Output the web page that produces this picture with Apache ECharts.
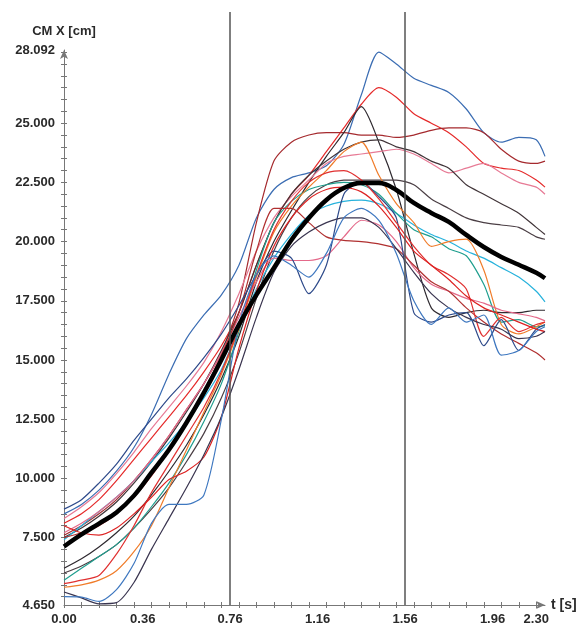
<!DOCTYPE html>
<html>
<head>
<meta charset="utf-8">
<script src="https://cdn.jsdelivr.net/npm/echarts@6/dist/echarts.min.js"></script>
<style>
html,body{margin:0;padding:0;background:#fff;}
#c{width:583px;height:629px;}
</style>
</head>
<body>
<div id="c"></div>
<script>
// time samples [s]
var time = [0,0.08,0.16,0.24,0.32,0.40,0.48,0.56,0.64,0.72,0.80,0.88,0.96,1.04,1.12,1.20,1.28,1.36,1.44,1.52,1.60,1.68,1.76,1.84,1.92,2.00,2.08,2.16,2.20];

// mean curve (thick black)
var meanCurve = [7.12,7.63,8.09,8.56,9.27,10.24,11.21,12.35,13.62,15.01,16.48,17.75,18.89,20.07,21.0,21.76,22.26,22.47,22.47,22.18,21.63,21.21,20.83,20.28,19.77,19.35,19.02,18.68,18.45];

// individual trials
var blueTop   = [8.5,8.9,9.5,10.3,11.3,12.7,14.4,15.9,16.9,17.75,19.0,21.0,22.2,22.7,22.9,23.2,24.1,26.2,28.0,27.5,26.9,26.6,26.3,25.6,24.6,24.2,24.4,24.3,23.6];
var redTop    = [8.1,8.5,9.1,9.9,10.8,11.7,12.6,13.5,14.5,15.6,17.0,19.0,20.8,22.0,22.8,23.8,24.8,25.8,26.5,26.1,25.4,25.0,24.6,24.0,23.3,23.1,23.0,22.6,22.3];
var darkRedFlat = [7.6,8.0,8.5,9.1,9.9,10.8,11.8,12.9,14.0,15.3,17.4,20.8,23.4,24.2,24.5,24.6,24.6,24.5,24.5,24.4,24.5,24.7,24.8,24.8,24.6,23.9,23.4,23.3,23.4];
var blackPeak = [6.2,6.6,7.1,7.7,8.4,9.3,10.3,11.4,12.7,14.2,16.0,18.3,20.0,21.3,22.5,23.6,24.6,25.7,24.2,22.2,19.5,17.2,16.8,17.0,17.1,17.0,17.0,17.1,17.1];
var pinkUpper = [8.3,8.8,9.4,10.2,11.1,12.1,13.0,13.9,14.9,16.2,17.8,19.6,21.0,21.9,22.6,23.3,23.6,23.7,23.8,23.9,23.7,23.3,22.9,23.1,23.3,22.9,22.5,22.3,22.0];
var darkUpper = [7.5,7.9,8.4,9.0,9.8,10.7,11.7,12.8,14.0,15.4,17.0,19.0,20.8,22.0,22.8,23.4,23.9,24.2,24.3,24.0,23.8,23.4,23.1,22.4,22.0,21.6,21.2,20.6,20.3];
var darkSecond = [6.0,6.3,6.7,7.2,7.9,8.7,9.6,10.7,11.9,13.4,15.3,17.6,19.6,21.0,21.9,22.4,22.6,22.6,22.6,22.6,22.4,21.8,21.4,21.0,20.8,20.7,20.6,20.2,20.1];
var cyan      = [7.4,8.0,8.6,9.2,9.9,10.7,11.5,12.4,13.4,14.6,16.3,18.0,19.3,20.3,21.1,21.5,21.7,21.75,21.6,21.2,20.7,20.3,20.0,19.6,19.3,18.9,18.5,17.9,17.45];
var teal      = [5.7,6.2,6.7,7.2,7.9,8.8,9.8,11.0,12.4,14.0,16.2,18.8,20.8,21.7,22.2,22.4,22.5,22.4,22.0,21.2,20.5,20.2,19.7,19.4,18.2,16.6,16.7,16.4,16.45];
var orange    = [5.4,5.5,5.7,6.1,6.9,8.0,9.6,11.2,12.8,14.4,16.3,18.5,20.4,21.5,22.3,23.0,23.8,24.2,22.8,21.6,20.8,19.8,20.0,20.1,18.8,16.5,16.1,16.4,16.6];
var pinkLower = [7.7,8.1,8.6,9.2,9.9,10.8,11.8,12.9,14.0,15.3,16.8,18.3,19.3,19.2,19.2,19.4,20.2,20.9,20.7,20.0,18.9,18.2,17.9,17.6,17.4,17.1,16.95,16.8,16.65];
var darkRedDiag = [7.5,7.7,8.0,8.5,9.2,10.1,11.2,12.4,13.7,15.2,17.0,19.6,21.4,21.4,20.8,20.2,20.05,20.0,19.9,19.7,19.0,18.3,17.9,17.2,16.6,16.1,15.7,15.3,15.0];
var navyDip   = [8.7,9.1,9.8,10.6,11.6,12.5,13.4,14.2,15.1,16.1,17.3,18.6,19.6,19.3,17.8,19.0,22.0,22.5,21.9,21.0,17.0,16.6,16.9,17.0,15.6,16.7,15.4,16.3,16.5];
var redMid    = [5.55,5.7,5.9,6.8,8.0,9.4,10.6,11.8,13.0,14.5,16.4,18.6,20.5,21.7,22.5,22.9,23.0,22.6,21.8,20.8,19.8,19.0,18.6,18.0,16.0,16.8,16.2,16.5,16.6];
var redLate   = [8.0,7.7,7.6,7.9,8.5,9.2,9.95,10.3,10.9,12.6,15.5,17.9,19.8,21.0,21.8,22.2,22.3,22.1,21.5,20.6,19.6,19.0,18.4,17.7,17.2,16.9,16.6,16.3,16.2];
var darkV     = [5.2,4.95,4.7,4.75,5.6,7.0,8.3,9.6,11.0,12.6,14.6,16.8,18.7,19.8,20.4,20.8,21.0,21.0,20.6,19.7,18.7,17.8,17.2,16.8,16.5,16.3,15.9,16.0,16.2];
var blueLate  = [5.0,4.98,4.8,5.3,6.4,8.1,8.9,8.9,9.3,12.5,16.5,18.6,19.4,19.0,18.5,19.5,21.0,21.4,20.9,19.5,17.5,16.5,17.2,16.6,16.9,15.2,15.4,16.2,16.4];

// axis ticks / labels
var yLabelValues = [4.65,7.5,10,12.5,15,17.5,20,22.5,25,28.092];
var xLabelValues = [0,0.36,0.76,1.16,1.56,1.96,2.16];
var xLabelTexts  = ['0.00','0.36','0.76','1.16','1.56','1.96','2.30'];
var markerTimes  = [0.76,1.56];

var xTicks = [];
for (var k = 0; k <= 27; k++) xTicks.push(+(k*0.08).toFixed(2));
var yTicks = [];
for (var v = 5; v <= 28; v += 0.5) yTicks.push(v);

var trials = [
  {d: blueTop, c:'#3b6db3'},
  {d: redTop, c:'#e52a2a'},
  {d: darkRedFlat, c:'#a52a2e'},
  {d: blackPeak, c:'#2f2a30'},
  {d: pinkUpper, c:'#e77a95'},
  {d: darkUpper, c:'#403438'},
  {d: darkSecond, c:'#4b3f45'},
  {d: cyan, c:'#27b2dc'},
  {d: teal, c:'#1f9e8e'},
  {d: orange, c:'#f07c2a'},
  {d: pinkLower, c:'#e4698a'},
  {d: darkRedDiag, c:'#b03030'},
  {d: navyDip, c:'#2e4a8a'},
  {d: redMid, c:'#e03030'},
  {d: redLate, c:'#dd2222'},
  {d: darkV, c:'#3a3550'},
  {d: blueLate, c:'#3f78c0'}
];

function pairs(arr){ return time.map(function(t,i){ return [t, arr[i]]; }); }

var XMAX = 2.2;
var font = {fontFamily:'Liberation Sans, Arial, sans-serif', fontWeight:'bold', fontSize:13, color:'#2a2a2a'};

var series = [];
series.push({
  type:'line', xAxisIndex:2, yAxisIndex:2, data:[], silent:true, z:1,
  markLine:{ symbol:['none','none'], silent:true, label:{show:false},
    lineStyle:{color:'#555', width:1.5, type:'solid'},
    data: markerTimes.map(function(t){ return {xAxis:t}; }) }
});
trials.forEach(function(s){
  series.push({type:'line', data:pairs(s.d), showSymbol:false, smooth:0.25,
    lineStyle:{color:s.c, width:1.2}, z:2, silent:true});
});
series.push({type:'line', data:pairs(meanCurve), showSymbol:false, smooth:0.4,
  lineStyle:{color:'#000', width:4.5}, z:3, silent:true});

var chart = echarts.init(document.getElementById('c'), null, {renderer:'canvas'});
chart.setOption({
  animation:false,
  backgroundColor:'#fff',
  grid:[
    {left:64, right:38, top:50, bottom:24},
    {left:64, right:38, top:12, bottom:24}
  ],
  xAxis:[
    {type:'value', gridIndex:0, min:0, max:XMAX,
     name:'t [s]', nameLocation:'end', nameGap:6,
     nameTextStyle:Object.assign({}, font, {fontSize:14, verticalAlign:'middle'}),
     axisLine:{show:true, lineStyle:{color:'#777', width:1}, symbol:['none','arrow'], symbolSize:[6,9]},
     axisTick:{show:true, customValues:xTicks, length:3, lineStyle:{color:'#777'}},
     axisLabel:Object.assign({}, font, {customValues:xLabelValues, margin:8,
        formatter:function(val){ var i = xLabelValues.indexOf(val); return i>=0 ? xLabelTexts[i] : ''; }}),
     splitLine:{show:false}},
    {type:'value', gridIndex:0, min:0, max:XMAX, position:'bottom',
     axisLine:{show:false}, axisLabel:{show:false}, splitLine:{show:false},
     axisTick:{show:true, inside:true, customValues:xTicks, length:3, lineStyle:{color:'#777'}}},
    {type:'value', gridIndex:1, min:0, max:XMAX, show:false}
  ],
  yAxis:[
    {type:'value', gridIndex:0, min:4.65, max:28.092,
     name:'CM X [cm]', nameLocation:'end', nameGap:12,
     nameTextStyle:Object.assign({}, font, {fontSize:13}),
     axisLine:{show:true, lineStyle:{color:'#777', width:1}, symbol:['none','arrow'], symbolSize:[6,9]},
     axisTick:{show:true, customValues:yTicks, length:3, lineStyle:{color:'#777'}},
     axisLabel:Object.assign({}, font, {customValues:yLabelValues, margin:9,
        formatter:function(val){ return val.toFixed(3); }}),
     splitLine:{show:false}},
    {type:'value', gridIndex:0, min:4.65, max:28.092, position:'left',
     axisLine:{show:false}, axisLabel:{show:false}, splitLine:{show:false},
     axisTick:{show:true, inside:true, customValues:yTicks, length:3, lineStyle:{color:'#777'}}},
    {type:'value', gridIndex:1, min:0, max:1, show:false}
  ],
  series: series
});
</script>
</body>
</html>
